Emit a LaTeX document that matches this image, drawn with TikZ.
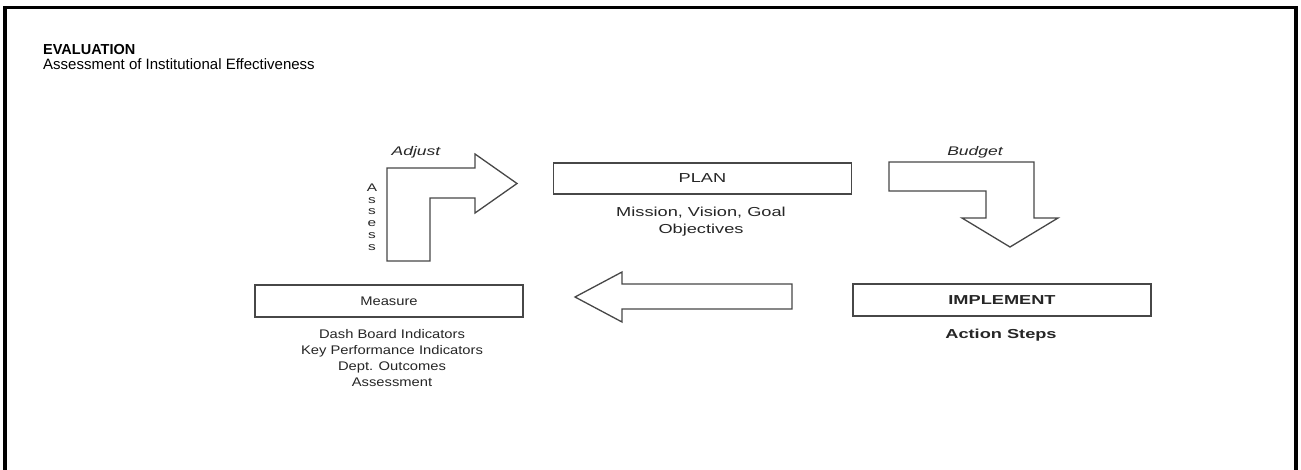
\documentclass[tikz,border=0pt]{standalone}
\usepackage{fontspec}
\setmainfont{Liberation Sans}
\newfontfamily\dfont[FakeStretch=1.4]{Liberation Sans}
\newfontfamily\mfont[FakeStretch=1.18]{Liberation Sans}
\begin{document}
\begin{tikzpicture}[x=1pt,y=-1pt,
  shp/.style={draw=black!72,line width=1.3pt,line join=miter,fill=white},
  box/.style={shp,minimum width=298pt,inner sep=0pt,font=\dfont\fontsize{13}{15}\selectfont,text=black!85},
  lbl/.style={inner sep=0pt,font=\dfont\fontsize{13}{16.5}\selectfont,text=black!85,align=center},
  ttl/.style={inner sep=0pt,anchor=base west,text=black}]
\fill[white] (0,0) rectangle (1301,469);
\useasboundingbox (0,0) rectangle (1301,469);
\begin{scope}
\clip (0,0) rectangle (1301,469);
\draw[line width=3.3pt] (5,480) -- (5,7.5) -- (1296,7.5) -- (1296,480);
\end{scope}
% titles
\node[ttl,font=\bfseries\fontsize{14.5}{16}\selectfont] (t1) at (43,54) {EVALUATION};
\node[ttl,font=\fontsize{15}{17}\selectfont] (t2) at (43,69) {Assessment of Institutional Effectiveness};
% boxes
\node[box,minimum height=31pt] (plan) at (702.5,178.5) {PLAN};
\node[box,minimum height=32pt,font=\dfont\bfseries\fontsize{13}{15}\selectfont] (impl) at (1002,300) {IMPLEMENT};
\node[box,minimum width=268pt,minimum height=32pt,font=\mfont\fontsize{12.5}{15}\selectfont] (meas) at (389,301) {Measure};
% texts below
\node[lbl] (plantxt) at (701,221.5) {Mission, Vision, Goal\\Objectives};
\node[lbl,font=\dfont\bfseries\fontsize{13}{16.5}\selectfont] (impltxt) at (1001,335) {Action Steps};
\node[lbl,font=\mfont\fontsize{12.5}{15.7}\selectfont] (meastxt) at (392,358) {Dash Board Indicators\\Key Performance Indicators\\Dept. Outcomes\\Assessment};
% L arrow (Adjust / Assess)
\draw[shp] (387,261) -- (387,168) -- (475,168) -- (475,154) -- (517,183.5) -- (475,213) -- (475,198) -- (430,198) -- (430,261) -- cycle;
\node[lbl,font=\dfont\itshape\fontsize{12.5}{14}\selectfont] (adjust) at (416,152) {Adjust};
\node[lbl,font=\dfont\fontsize{11}{11.8}\selectfont] (assess) at (372,217) {A\\s\\s\\e\\s\\s};
% Budget arrow
\draw[shp] (889,162) -- (1034,162) -- (1034,218) -- (1058,218) -- (1010,247) -- (962,218) -- (986,218) -- (986,191) -- (889,191) -- cycle;
\node[lbl,font=\dfont\itshape\fontsize{12.5}{14}\selectfont] (budget) at (975,152) {Budget};
% left arrow (Implement -> Measure)
\draw[shp] (792,284) -- (622,284) -- (622,272) -- (575,297) -- (622,322) -- (622,309) -- (792,309) -- cycle;
\end{tikzpicture}
\end{document}
